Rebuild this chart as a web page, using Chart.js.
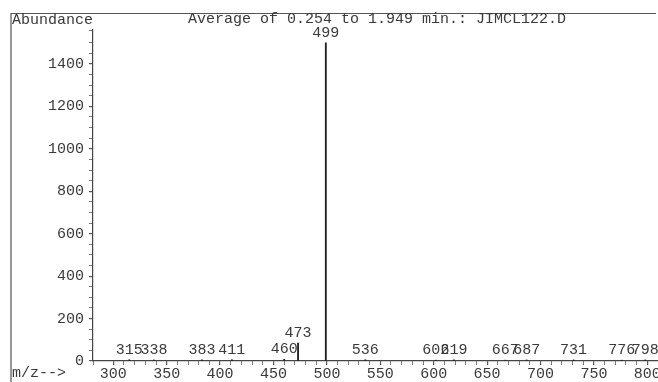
<!DOCTYPE html>
<html>
<head>
<meta charset="utf-8">
<script src="https://cdn.jsdelivr.net/npm/chart.js@4/dist/chart.umd.min.js"></script>
<style>
html,body{margin:0;padding:0;background:#fff;}
#wrap{width:658px;height:382px;position:relative;}
</style>
</head>
<body>
<div id="wrap"><canvas id="c" width="658" height="382"></canvas></div>
<script>
// m/z values of the peaks and their abundances
const mzValues = [315, 338, 383, 411, 460, 473, 499, 536, 602, 619, 667, 687, 731, 776, 798];
const abundances = [6, 5, 5, 6, 8, 85, 1500, 6, 4, 5, 4, 5, 5, 4, 5];
const peakLabels = ["315", "338", "383", "411", "460", "473", "499", "536", "602", "619", "667", "687", "731", "776", "798"];
const yTickLabels = [0, 200, 400, 600, 800, 1000, 1200, 1400];
const xTickLabels = [300, 350, 400, 450, 500, 550, 600, 650, 700, 750, 800];
const titleText = "Average of 0.254 to 1.949 min.: JIMCL122.D";
const yAxisTitle = "Abundance";
const xAxisTitle = "m/z-->";

const FONT = "Liberation Mono";
const INK = "#3a3a3a";
const FS = 15;

const decor = {
  id: 'decor',
  afterDraw(chart) {
    const ctx = chart.ctx;
    const xs = chart.scales.x, ys = chart.scales.y;
    ctx.save();
    // frame lines
    ctx.strokeStyle = "#555";
    ctx.lineWidth = 1.2;
    ctx.beginPath();
    ctx.moveTo(11, 382); ctx.lineTo(11, 13.5); ctx.lineTo(656, 13.5);
    ctx.stroke();
    // titles
    ctx.fillStyle = INK;
    ctx.font = FS + "px '" + FONT + "'";
    ctx.textBaseline = "middle";
    ctx.textAlign = "left";
    ctx.fillText(yAxisTitle, 12, 20);
    ctx.textAlign = "center";
    ctx.fillText(titleText, 377, 19);
    ctx.textAlign = "left";
    ctx.fillText(xAxisTitle, 12, 373);
    // peak labels
    ctx.textAlign = "center";
    ctx.textBaseline = "alphabetic";
    for (let i = 0; i < mzValues.length; i++) {
      const px = xs.getPixelForValue(mzValues[i]);
      const py = ys.getPixelForValue(abundances[i]);
      ctx.fillText(peakLabels[i], px, py - 6);
    }
    ctx.restore();
  }
};

new Chart(document.getElementById('c'), {
  type: 'bar',
  data: {
    datasets: [{
      data: mzValues.map((m, i) => ({x: m, y: abundances[i]})),
      backgroundColor: "#222",
      borderWidth: 0,
      barThickness: 1.2,
      grouped: false
    }]
  },
  plugins: [decor],
  options: {
    responsive: false,
    animation: false,
    events: [],
    layout: {padding: {top: 30, right: 0, left: 0, bottom: 0}},
    plugins: {legend: {display: false}, tooltip: {enabled: false}, title: {display: false}},
    scales: {
      x: {
        type: 'linear',
        offset: false,
        min: 281, max: 810,
        afterFit(s) { s.height = 21; },
        border: {display: true, color: "#444", width: 1.2},
        grid: {offset: false, drawOnChartArea: false, drawTicks: true, tickLength: 4, color: "#555",
               lineWidth: (c) => (c.tick && c.tick.value % 50 === 0) ? 1.2 : 0.8},
        ticks: {
          stepSize: 10,
          autoSkip: false,
          maxRotation: 0,
          padding: 0,
          color: INK,
          font: {family: FONT, size: FS},
          callback: (v) => xTickLabels.includes(v) ? String(v) : ''
        }
      },
      y: {
        min: 0, max: 1560,
        afterFit(s) { s.width = 93; },
        border: {display: true, color: "#444", width: 1.2},
        grid: {drawOnChartArea: false, drawTicks: true, tickLength: 4, color: "#555",
               lineWidth: (c) => (c.tick && c.tick.value % 200 === 0) ? 1.2 : 0.8},
        ticks: {
          stepSize: 50,
          autoSkip: false,
          padding: 5,
          color: INK,
          font: {family: FONT, size: FS},
          callback: (v) => yTickLabels.includes(v) ? String(v) : ''
        }
      }
    }
  }
});
</script>
</body>
</html>
